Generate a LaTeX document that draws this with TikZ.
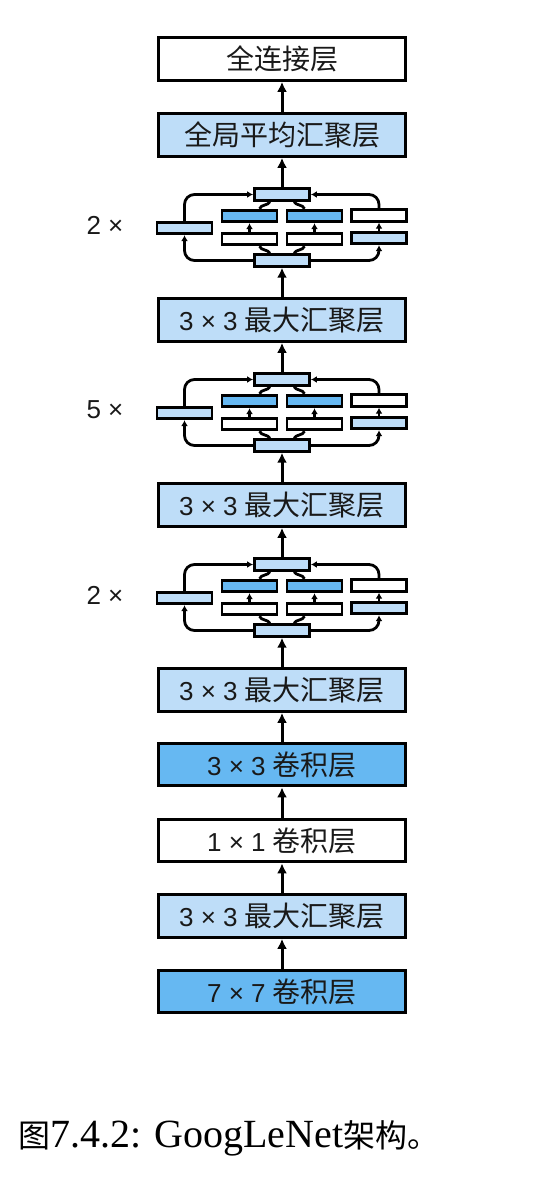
\documentclass[tikz,border=0pt]{standalone}
\usepackage{fontspec}
\setmainfont{Liberation Sans}
\newfontfamily\cjk{Noto Sans CJK SC}
\newfontfamily\capserif{Liberation Serif}
\usetikzlibrary{arrows.meta}
\definecolor{lb}{HTML}{BEDDF8}
\definecolor{mb}{HTML}{66B8F2}
\newcommand\zh[1]{{\cjk\fontsize{28}{30}\selectfont #1}}
\begin{document}
\begin{tikzpicture}[x=1pt,y=-1pt,
  mainbox/.style={draw=black, line width=3.2pt, minimum width=246.5pt, minimum height=42.5pt, inner sep=0pt, font=\fontsize{26}{30}\selectfont, text=black!90},
  minibox/.style={draw=black, line width=2.9pt, minimum width=55pt, minimum height=11.5pt, inner sep=0pt},
  mainarrow/.style={line width=3pt, -{Latex[length=10pt,width=10pt]}},
  smallarrow/.style={line width=2.8pt, -{Latex[length=6pt,width=7pt]}},
  conn/.style={line width=2.8pt},
  replabel/.style={font=\fontsize{26}{30}\selectfont, text=black!90, inner sep=0pt}]
\useasboundingbox (0,0) rectangle (538,1193);
\node[mainbox, fill=white] (fc) at (282,59) {\zh{全连接层}};
\node[mainbox, fill=lb] (gap) at (282,135) {\zh{全局平均汇聚层}};
\node[mainbox, fill=lb] (pA) at (282,320) {3 × 3 \zh{最大汇聚层}};
\node[mainbox, fill=lb] (pB) at (282,505) {3 × 3 \zh{最大汇聚层}};
\node[mainbox, fill=lb] (pC) at (282,690) {3 × 3 \zh{最大汇聚层}};
\node[mainbox, fill=mb] (c3) at (282,764.5) {3 × 3 \zh{卷积层}};
\node[mainbox, fill=white] (c1) at (282,840.5) {1 × 1 \zh{卷积层}};
\node[mainbox, fill=lb] (p0) at (282,916) {3 × 3 \zh{最大汇聚层}};
\node[mainbox, fill=mb] (c7) at (282,991.5) {7 × 7 \zh{卷积层}};
\foreach \i/\dy/\n in {1/0/2, 2/185/5, 3/370/2}{
  \node[minibox, fill=lb] (C\i) at (282,194.5+\dy) {};
  \node[minibox, fill=lb] (I\i) at (282,260.5+\dy) {};
  \node[minibox, fill=mb] (Ua\i) at (249.5,216+\dy) {};
  \node[minibox, fill=mb] (Ub\i) at (314.5,216+\dy) {};
  \node[minibox, fill=white] (Uc\i) at (379,215.5+\dy) {};
  \node[minibox, fill=white] (La\i) at (249.5,239+\dy) {};
  \node[minibox, fill=white] (Lb\i) at (314.5,239+\dy) {};
  \node[minibox, fill=lb] (Lc\i) at (379,238+\dy) {};
  \node[minibox, fill=lb] (P\i) at (184.5,228+\dy) {};
  \node[replabel] (R\i) at (105,225+\dy) {\n\ ×};
  \draw[smallarrow, rounded corners=10pt] (I\i.west) -| (P\i.south);
  \draw[smallarrow, rounded corners=10pt] (P\i.north) |- (C\i.west);
  \draw[smallarrow, rounded corners=10pt] (I\i.east) -| (Lc\i.south);
  \draw[smallarrow, rounded corners=10pt] (Uc\i.north) |- (C\i.east);
  \draw[smallarrow] (La\i.north) -- (Ua\i.south);
  \draw[smallarrow] (Lb\i.north) -- (Ub\i.south);
  \draw[smallarrow] (Lc\i.north) -- (Uc\i.south);
  \draw[conn] ([xshift=-12pt]I\i.north) to[out=120,in=-70] ([xshift=10pt]La\i.south);
  \draw[conn] ([xshift=12pt]I\i.north) to[out=60,in=-110] ([xshift=-10pt]Lb\i.south);
  \draw[conn] ([xshift=10pt]Ua\i.north) to[out=70,in=-120] ([xshift=-12pt]C\i.south);
  \draw[conn] ([xshift=-10pt]Ub\i.north) to[out=110,in=-60] ([xshift=12pt]C\i.south);
}
\draw[mainarrow] (gap) -- (fc);
\draw[mainarrow] (C1) -- (gap);
\draw[mainarrow] (pA) -- (I1);
\draw[mainarrow] (C2) -- (pA);
\draw[mainarrow] (pB) -- (I2);
\draw[mainarrow] (C3) -- (pB);
\draw[mainarrow] (pC) -- (I3);
\draw[mainarrow] (c3) -- (pC);
\draw[mainarrow] (c1) -- (c3);
\draw[mainarrow] (p0) -- (c1);
\draw[mainarrow] (c7) -- (p0);
\node[anchor=base west, inner sep=0pt] (cap) at (18,1147) {{\cjk\fontsize{32}{34}\selectfont 图}{\capserif\fontsize{40}{44}\selectfont 7.4.2: GoogLeNet}{\cjk\fontsize{32}{34}\selectfont 架构。}};
\end{tikzpicture}
\end{document}
